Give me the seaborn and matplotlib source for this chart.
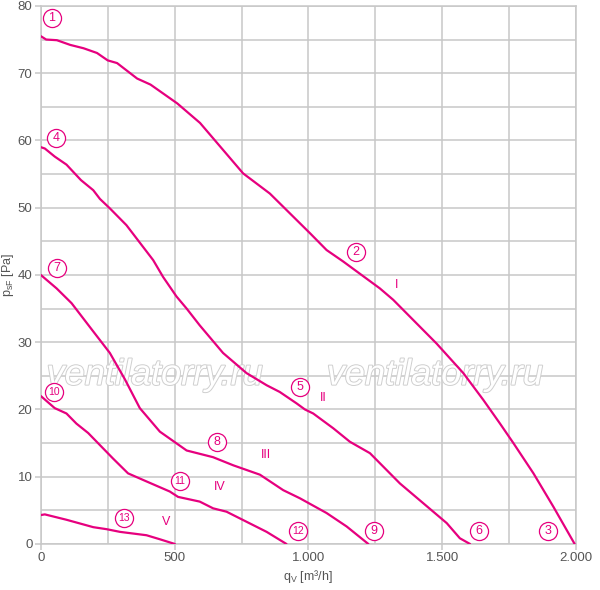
import pandas as pd
import seaborn as sns
import matplotlib.pyplot as plt
from matplotlib import patheffects
from matplotlib.ticker import MultipleLocator, FixedLocator

# Fan curves (q in m3/h, p in Pa)
q_I = [0, 20, 60, 110, 160, 210, 250, 285, 360, 410, 510, 595, 756, 856, 1006,
       1068, 1130, 1267, 1317, 1479, 1579, 1654, 1716, 1766, 1841, 1916, 1995]
p_I = [75.5, 75.0, 74.9, 74.2, 73.7, 73.0, 71.9, 71.5, 69.2, 68.3, 65.5, 62.6, 55.1, 52.1, 46.2,
       43.7, 42.0, 38.0, 36.3, 29.8, 25.4, 21.4, 17.9, 15.0, 10.5, 5.5, 0]

q_II = [0, 15, 52, 96, 150, 196, 221, 258, 320, 420, 457, 507, 545, 594, 681, 769,
        844, 893, 956, 987, 1018, 1093, 1155, 1230, 1342, 1517, 1566, 1604]
p_II = [59.0, 58.8, 57.6, 56.4, 54.1, 52.6, 51.3, 49.9, 47.4, 42.2, 39.7, 36.8, 35.0, 32.5, 28.4, 25.4,
        23.6, 22.6, 20.9, 20.0, 19.4, 17.2, 15.2, 13.5, 9.0, 3.1, 0.85, 0]

q_III = [0, 59, 115, 196, 258, 314, 370, 445, 545, 644, 719, 819, 906, 968, 1068, 1143, 1224]
p_III = [40.0, 38.0, 35.8, 31.6, 28.4, 24.5, 20.2, 16.7, 13.9, 12.9, 11.7, 10.3, 8.0, 6.8, 4.6, 2.6, 0]

q_IV = [0, 52, 96, 133, 177, 221, 270, 326, 395, 482, 513, 594, 644, 694, 744, 844, 918]
p_IV = [22.0, 20.2, 19.4, 17.9, 16.5, 14.7, 12.7, 10.5, 9.3, 7.8, 7.0, 6.3, 5.3, 4.8, 3.8, 1.8, 0]

q_V = [0, 15, 96, 196, 246, 296, 395, 445, 501]
p_V = [4.3, 4.4, 3.6, 2.5, 2.2, 1.8, 1.3, 0.7, 0]

curve_names = ['I', 'II', 'III', 'IV', 'V']

# operating point markers (circled numbers) and curve names
point_labels = ['1', '2', '3', '4', '5', '6', '7', '8', '9', '10', '11', '12', '13']
point_q = [41, 1178, 1895, 56, 968, 1637, 60, 658, 1245, 49, 520, 961, 310]
point_p = [78.2, 43.4, 1.9, 60.4, 23.3, 1.9, 41.0, 15.2, 1.9, 22.6, 9.4, 1.9, 3.9]

name_q = [1331, 1054, 841, 669, 467]
name_p = [38.5, 21.7, 13.2, 8.5, 3.3]

x_ticks = [0, 500, 1000, 1500, 2000]
x_tick_labels = ['0', '500', '1.000', '1.500', '2.000']

magenta = '#e6007e'
grid_gray = '#c8c8c8'
text_gray = '#555555'

frames = []
for name, q, p in zip(curve_names, [q_I, q_II, q_III, q_IV, q_V],
                      [p_I, p_II, p_III, p_IV, p_V]):
    frames.append(pd.DataFrame({'q': q, 'p': p, 'curve': name}))
df = pd.concat(frames, ignore_index=True)
points = pd.DataFrame({'q': point_q, 'p': point_p, 'label': point_labels})

sns.set_theme(style='white')
plt.rcParams['font.family'] = ['Liberation Sans', 'DejaVu Sans']
plt.rcParams['mathtext.default'] = 'regular'

fig = plt.figure(figsize=(6, 5.9), dpi=100)
ax = fig.add_axes([0.068, 0.078, 0.892, 0.912])

sns.lineplot(data=df, x='q', y='p', hue='curve', units='curve', estimator=None,
             sort=False, palette=[magenta] * 5, linewidth=1.6, legend=False, ax=ax,
             zorder=3)

# circles around the point numbers
sns.scatterplot(data=points, x='q', y='p', s=170, color='white', edgecolor=magenta,
                linewidth=0.9, ax=ax, zorder=4, legend=False)

ax.set_xlim(0, 2000)
ax.set_ylim(0, 80)
ax.xaxis.set_major_locator(FixedLocator(x_ticks))
ax.set_xticklabels(x_tick_labels)
ax.xaxis.set_minor_locator(MultipleLocator(250))
ax.yaxis.set_major_locator(MultipleLocator(10))
ax.yaxis.set_minor_locator(MultipleLocator(5))
ax.grid(True, which='both', color=grid_gray, linewidth=1.1)
ax.set_axisbelow(True)
for side in ['left', 'bottom', 'right', 'top']:
    ax.spines[side].set_color(grid_gray)
    ax.spines[side].set_linewidth(1.1)
ax.tick_params(which='major', length=4, width=1.1, color=grid_gray, pad=2,
               labelcolor=text_gray, labelsize=9.5, left=True, bottom=True)
ax.tick_params(which='minor', length=0)

ax.set_xlabel('q$_V$ [m³/h]', color=text_gray, fontsize=9, labelpad=3)
ax.set_ylabel('p$_{sF}$ [Pa]', color=text_gray, fontsize=9, labelpad=1)

# watermark
for xq in [426, 1473]:
    ax.text(xq, 25.1, 'ventilatorry.ru', fontsize=26, style='italic', color='white',
            ha='center', va='center', zorder=2,
            path_effects=[patheffects.withStroke(linewidth=1.4, foreground='#cfcfcf')])

for lab, xq, yp in zip(point_labels, point_q, point_p):
    ax.text(xq, yp, lab, fontsize=9 if len(lab) == 1 else 7.5, color=magenta,
            ha='center', va='center', zorder=5)

for lab, xq, yp in zip(curve_names, name_q, name_p):
    ax.text(xq, yp, lab, fontsize=9, color=magenta, ha='center', va='center', zorder=4)

fig.savefig('out.png', dpi=100)
